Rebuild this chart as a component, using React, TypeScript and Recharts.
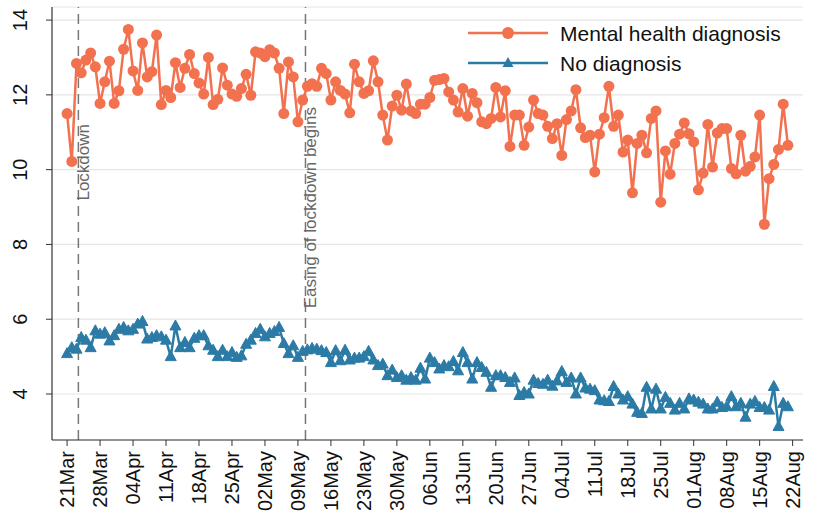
import React from "react";
import { LineChart, Line, XAxis, YAxis, CartesianGrid, ReferenceLine } from "recharts";

const mentalHealth: number[] = [
  11.5, 10.22, 12.84, 12.59, 12.93, 13.12, 12.75, 11.77, 12.35, 12.9,
  11.77, 12.11, 13.22, 13.75, 12.64, 12.12, 13.39, 12.48, 12.62, 13.6,
  11.74, 12.12, 11.93, 12.86, 12.2, 12.71, 13.08, 12.57, 12.32, 12.02,
  13.0, 11.74, 11.88, 12.72, 12.26, 12.02, 11.96, 12.17, 12.55, 11.99,
  13.15, 13.12, 13.02, 13.21, 13.12, 12.71, 11.5, 12.88, 12.48, 11.28,
  11.86, 12.23, 12.3, 12.23, 12.71, 12.57, 11.86, 12.35, 12.12, 12.02,
  11.52, 12.82, 12.35, 12.04, 12.11, 12.91, 12.35, 11.46, 10.79, 11.7,
  11.99, 11.59, 12.29, 11.57, 11.5, 11.75, 11.75, 11.93, 12.39, 12.41,
  12.44, 12.08, 11.86, 11.54, 12.17, 11.43, 12.04, 11.79, 11.28, 11.23,
  11.37, 12.2, 11.41, 12.11, 10.62, 11.46, 11.46, 10.65, 11.14, 11.86,
  11.5, 11.46, 11.16, 10.83, 11.23, 10.38, 11.34, 11.57, 12.14, 11.12,
  10.86, 10.92, 9.94, 10.95, 11.39, 12.23, 11.16, 11.46, 10.47, 10.79,
  9.38, 10.7, 10.92, 10.45, 11.37, 11.57, 9.13, 10.5, 9.88, 10.7,
  10.95, 11.25, 10.96, 10.74, 9.46, 9.91, 11.21, 10.07, 10.98, 11.1,
  11.1, 10.03, 9.89, 10.92, 9.96, 10.09, 10.34, 11.46, 8.54, 9.76,
  10.14, 10.54, 11.75, 10.65,
];

const noDiagnosis: number[] = [
  5.08, 5.24, 5.2, 5.51, 5.44, 5.24, 5.69, 5.6, 5.64, 5.42,
  5.56, 5.73, 5.78, 5.69, 5.73, 5.87, 5.94, 5.47, 5.51, 5.56,
  5.53, 5.44, 5.0, 5.82, 5.24, 5.38, 5.24, 5.49, 5.56, 5.56,
  5.29, 5.17, 5.0, 5.17, 5.0, 5.11, 4.98, 5.02, 5.33, 5.44,
  5.62, 5.73, 5.53, 5.62, 5.67, 5.78, 5.35, 5.08, 5.29, 4.98,
  5.14, 5.18, 5.22, 5.2, 5.16, 5.11, 4.84, 5.16, 4.89, 5.17,
  4.91, 4.96, 4.96, 5.0, 5.14, 4.91, 4.76, 4.8, 4.49, 4.64,
  4.44, 4.49, 4.37, 4.44, 4.37, 4.69, 4.4, 4.96, 4.84, 4.67,
  4.76, 4.73, 4.87, 4.62, 5.11, 4.84, 4.4, 4.84, 4.71, 4.58,
  4.18, 4.49, 4.49, 4.44, 4.31, 4.43, 3.96, 4.04, 4.0, 4.37,
  4.28, 4.26, 4.37, 4.21, 4.35, 4.6, 4.31, 4.43, 4.0, 4.43,
  4.16, 4.13, 4.09, 3.84, 3.82, 3.8, 4.2, 4.0, 3.84, 3.93,
  3.73, 3.51, 3.48, 4.18, 3.6, 4.13, 3.6, 3.91, 3.75, 3.57,
  3.75, 3.6, 3.87, 3.84, 3.78, 3.73, 3.6, 3.6, 3.78, 3.64,
  3.66, 3.93, 3.66, 3.75, 3.38, 3.73, 3.8, 3.64, 3.64, 3.57,
  4.2, 3.13, 3.75, 3.66,
];

const xTickDays: number[] = [0, 7, 14, 21, 28, 35, 42, 49, 56, 63, 70, 77, 84, 91, 98, 105, 112, 119, 126, 133, 140, 147, 154];
const xTickLabels: string[] = [
  "21Mar", "28Mar", "04Apr", "11Apr", "18Apr", "25Apr", "02May", "09May",
  "16May", "23May", "30May", "06Jun", "13Jun", "20Jun", "27Jun", "04Jul",
  "11Jul", "18Jul", "25Jul", "01Aug", "08Aug", "15Aug", "22Aug",
];
const yTicks: number[] = [4, 6, 8, 10, 12, 14];

const events = [
  { day: 2.4, label: "Lockdown", top: 124 },
  { day: 50.6, label: "Easing of lockdown begins", top: 107 },
];

const seriesNames = ["Mental health diagnosis", "No diagnosis"];

const ORANGE = "#F2714F";
const BLUE = "#2B7BA6";
const FONT = "'Liberation Sans', Arial, Helvetica, sans-serif";

const data = mentalHealth.map((v, i) => ({ day: i, mh: v, nd: noDiagnosis[i] }));

const XTick = (props: any) => {
  const { x, y, payload } = props;
  const idx = xTickDays.indexOf(payload.value);
  const label = idx >= 0 ? xTickLabels[idx] : "";
  const bx = x + 7;
  const by = y + 3;
  return (
    <text
      x={bx}
      y={by}
      transform={`rotate(-90, ${bx}, ${by})`}
      textAnchor="end"
      fontSize={20}
      fontFamily={FONT}
      fill="#111"
    >
      {label}
    </text>
  );
};

const YTick = (props: any) => {
  const { y, payload } = props;
  const bx = 27;
  return (
    <text
      x={bx}
      y={y}
      transform={`rotate(-90, ${bx}, ${y})`}
      textAnchor="middle"
      fontSize={20}
      fontFamily={FONT}
      fill="#111"
    >
      {payload.value}
    </text>
  );
};

const Triangle = (props: any) => {
  const { cx, cy } = props;
  if (cx == null || cy == null) return null;
  return (
    <polygon
      points={`${cx},${cy - 6} ${cx - 5.5},${cy + 4} ${cx + 5.5},${cy + 4}`}
      fill={BLUE}
      stroke={BLUE}
      strokeWidth={1}
    />
  );
};

const Circle = (props: any) => {
  const { cx, cy } = props;
  if (cx == null || cy == null) return null;
  return <circle cx={cx} cy={cy} r={5.5} fill={ORANGE} />;
};

const makeEventLabel = (text: string, top: number) => (props: any) => {
  const vb = props.viewBox || {};
  const bx = (vb.x || 0) + 11;
  return (
    <text
      x={bx}
      y={top}
      transform={`rotate(-90, ${bx}, ${top})`}
      textAnchor="end"
      fontSize={17}
      fontFamily={FONT}
      fill="#666"
    >
      {text}
    </text>
  );
};

export default function App() {
  return (
    <div style={{ position: "absolute", left: 0, top: 0, width: 821, height: 517, background: "#fff" }}>
      <LineChart
        width={821}
        height={517}
        data={data}
        margin={{ top: 7, right: 18, left: 0, bottom: 0 }}
      >
        <CartesianGrid horizontal={true} vertical={false} stroke="#e6e6e6" strokeWidth={1.2} />
        <XAxis
          dataKey="day"
          type="number"
          domain={[-3.2, 156.2]}
          ticks={xTickDays}
          interval={0}
          allowDataOverflow={true}
          height={77}
          tick={<XTick />}
          tickLine={{ stroke: "#333" }}
          axisLine={{ stroke: "#333", strokeWidth: 1.2 }}
          tickSize={6}
        />
        <YAxis
          type="number"
          domain={[2.77, 14.35]}
          ticks={yTicks}
          interval={0}
          allowDataOverflow={true}
          width={52}
          tick={<YTick />}
          tickLine={{ stroke: "#333" }}
          axisLine={{ stroke: "#333", strokeWidth: 1.2 }}
          tickSize={6}
        />
        {events.map((e) => (
          <ReferenceLine
            key={e.label}
            x={e.day}
            stroke="#777"
            strokeWidth={1.5}
            strokeDasharray="10 6"
            label={makeEventLabel(e.label, e.top)}
          />
        ))}
        <Line
          type="linear"
          dataKey="mh"
          name={seriesNames[0]}
          stroke={ORANGE}
          strokeWidth={2.5}
          dot={<Circle />}
          activeDot={false}
          isAnimationActive={false}
        />
        <Line
          type="linear"
          dataKey="nd"
          name={seriesNames[1]}
          stroke={BLUE}
          strokeWidth={2.5}
          dot={<Triangle />}
          activeDot={false}
          isAnimationActive={false}
        />
      </LineChart>
      <svg
        width={340}
        height={62}
        style={{ position: "absolute", left: 460, top: 15 }}
      >
        <line x1={8} x2={88} y1={18} y2={18} stroke={ORANGE} strokeWidth={2.5} />
        <circle cx={48} cy={18} r={6} fill={ORANGE} />
        <text x={100} y={26} fontSize={21} fontFamily={FONT} fill="#111">
          {seriesNames[0]}
        </text>
        <line x1={8} x2={88} y1={48} y2={48} stroke={BLUE} strokeWidth={2.5} />
        <polygon points="48,42 42.5,52 53.5,52" fill={BLUE} />
        <text x={100} y={56} fontSize={21} fontFamily={FONT} fill="#111">
          {seriesNames[1]}
        </text>
      </svg>
    </div>
  );
}
